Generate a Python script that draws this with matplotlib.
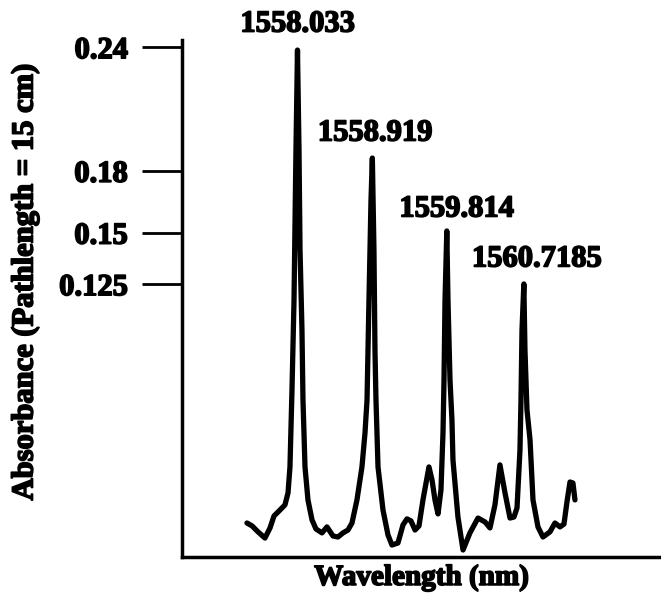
import numpy as np
import matplotlib
matplotlib.use("Agg")
import matplotlib.pyplot as plt
import matplotlib.patheffects as pe

# ---------------------------------------------------------
# Data
# ---------------------------------------------------------
wavelength = np.array([
    1557.435, 1557.495, 1557.566, 1557.648, 1557.708, 1557.755, 1557.826, 1557.885,
    1557.921, 1557.944, 1557.968, 1557.992, 1558.015, 1558.033, 1558.051, 1558.063,
    1558.086, 1558.098, 1558.122, 1558.157, 1558.205, 1558.252, 1558.323, 1558.382,
    1558.453, 1558.512, 1558.572, 1558.631, 1558.678, 1558.737, 1558.796, 1558.832,
    1558.856, 1558.879, 1558.903, 1558.919, 1558.938, 1558.950, 1558.962, 1558.986,
    1559.045, 1559.104, 1559.151, 1559.222, 1559.282, 1559.329, 1559.376, 1559.424,
    1559.471, 1559.518, 1559.589, 1559.625, 1559.660, 1559.696, 1559.731, 1559.755,
    1559.767, 1559.779, 1559.800, 1559.814, 1559.838, 1559.861, 1559.873, 1559.932,
    1559.992, 1560.074, 1560.169, 1560.252, 1560.311, 1560.370, 1560.429, 1560.489,
    1560.548, 1560.595, 1560.631, 1560.666, 1560.678, 1560.690, 1560.712, 1560.725,
    1560.749, 1560.785, 1560.820, 1560.879, 1560.938, 1561.021, 1561.080, 1561.140,
    1561.187, 1561.222, 1561.258, 1561.293, 1561.317,
])
absorbance = np.array([
    0.0091, 0.0077, 0.0048, 0.0018, 0.0067, 0.0125, 0.0154, 0.0179,
    0.0237, 0.0363, 0.0737, 0.1173, 0.1901, 0.2386, 0.1901, 0.1416,
    0.1028, 0.0688, 0.0363, 0.0203, 0.0106, 0.0062, 0.0043, 0.0072,
    0.0028, 0.0023, 0.0043, 0.0057, 0.0091, 0.0203, 0.0363, 0.0528,
    0.0688, 0.1173, 0.1659, 0.1862, 0.1416, 0.0931, 0.0688, 0.0363,
    0.0154, 0.0033, -0.0016, -0.0006, 0.0082, 0.0111, 0.0101, 0.0057,
    0.0077, 0.0203, 0.0363, 0.0300, 0.0203, 0.0135, 0.0251, 0.0528,
    0.0785, 0.1173, 0.1508, 0.1173, 0.0785, 0.0591, 0.0397, 0.0120,
    -0.0040, 0.0043, 0.0115, 0.0096, 0.0067, 0.0179, 0.0373, 0.0237,
    0.0115, 0.0120, 0.0164, 0.0445, 0.0688, 0.1028, 0.1251, 0.0931,
    0.0640, 0.0494, 0.0203, 0.0072, 0.0023, 0.0048, 0.0091, 0.0072,
    0.0086, 0.0193, 0.0290, 0.0285, 0.0203,
])

peak_labels = ["1558.033", "1558.919", "1559.814", "1560.7185"]
peak_x = [1558.033, 1558.919, 1559.800, 1560.712]
peak_y = [0.2386, 0.1862, 0.1508, 0.1251]

ytick_vals = [0.125, 0.15, 0.18, 0.24]
ytick_text = ["0.125", "0.15", "0.18", "0.24"]

# ---------------------------------------------------------
# Plot
# ---------------------------------------------------------
plt.rcParams["font.family"] = "Liberation Serif"
plt.rcParams["font.weight"] = "bold"

heavy = [pe.withStroke(linewidth=1.2, foreground="black")]

fig = plt.figure(figsize=(6.61, 6.03), dpi=100)
ax = fig.add_axes([0.2753, 0.0763, 0.7247, 0.8574])

ax.plot(wavelength, absorbance, color="black", linewidth=3.8,
        solid_joinstyle="round", solid_capstyle="round")

offsets = [(0, 26), (3, 25), (10, 22), (13, 25)]
for lab, px, py, off in zip(peak_labels, peak_x, peak_y, offsets):
    ax.annotate(lab, (px, py), xytext=off, textcoords="offset pixels",
                ha="center", va="center", fontsize=22, fontweight="bold",
                path_effects=heavy)

ax.set_xlim(1556.666, 1562.335)
ax.set_ylim(-0.0074, 0.2435)

ax.set_yticks(ytick_vals)
ax.set_yticklabels(ytick_text)
ax.set_xticks([])
ax.tick_params(axis="y", length=29, width=2, pad=10, labelsize=22)
for t in ax.get_yticklabels():
    t.set_path_effects(heavy)

for s in ["top", "right"]:
    ax.spines[s].set_visible(False)
for s in ["left", "bottom"]:
    ax.spines[s].set_linewidth(2.5)

ax.set_xlabel("Wavelength (nm)", fontsize=21, fontweight="bold", labelpad=5,
              path_effects=heavy)
fig.text(25 / 661, 1 - 282 / 603, "Absorbance (Pathlength = 15 cm)",
         rotation=90, ha="center", va="center", fontsize=22, fontweight="bold",
         path_effects=heavy)

fig.savefig("out.png", dpi=100)
